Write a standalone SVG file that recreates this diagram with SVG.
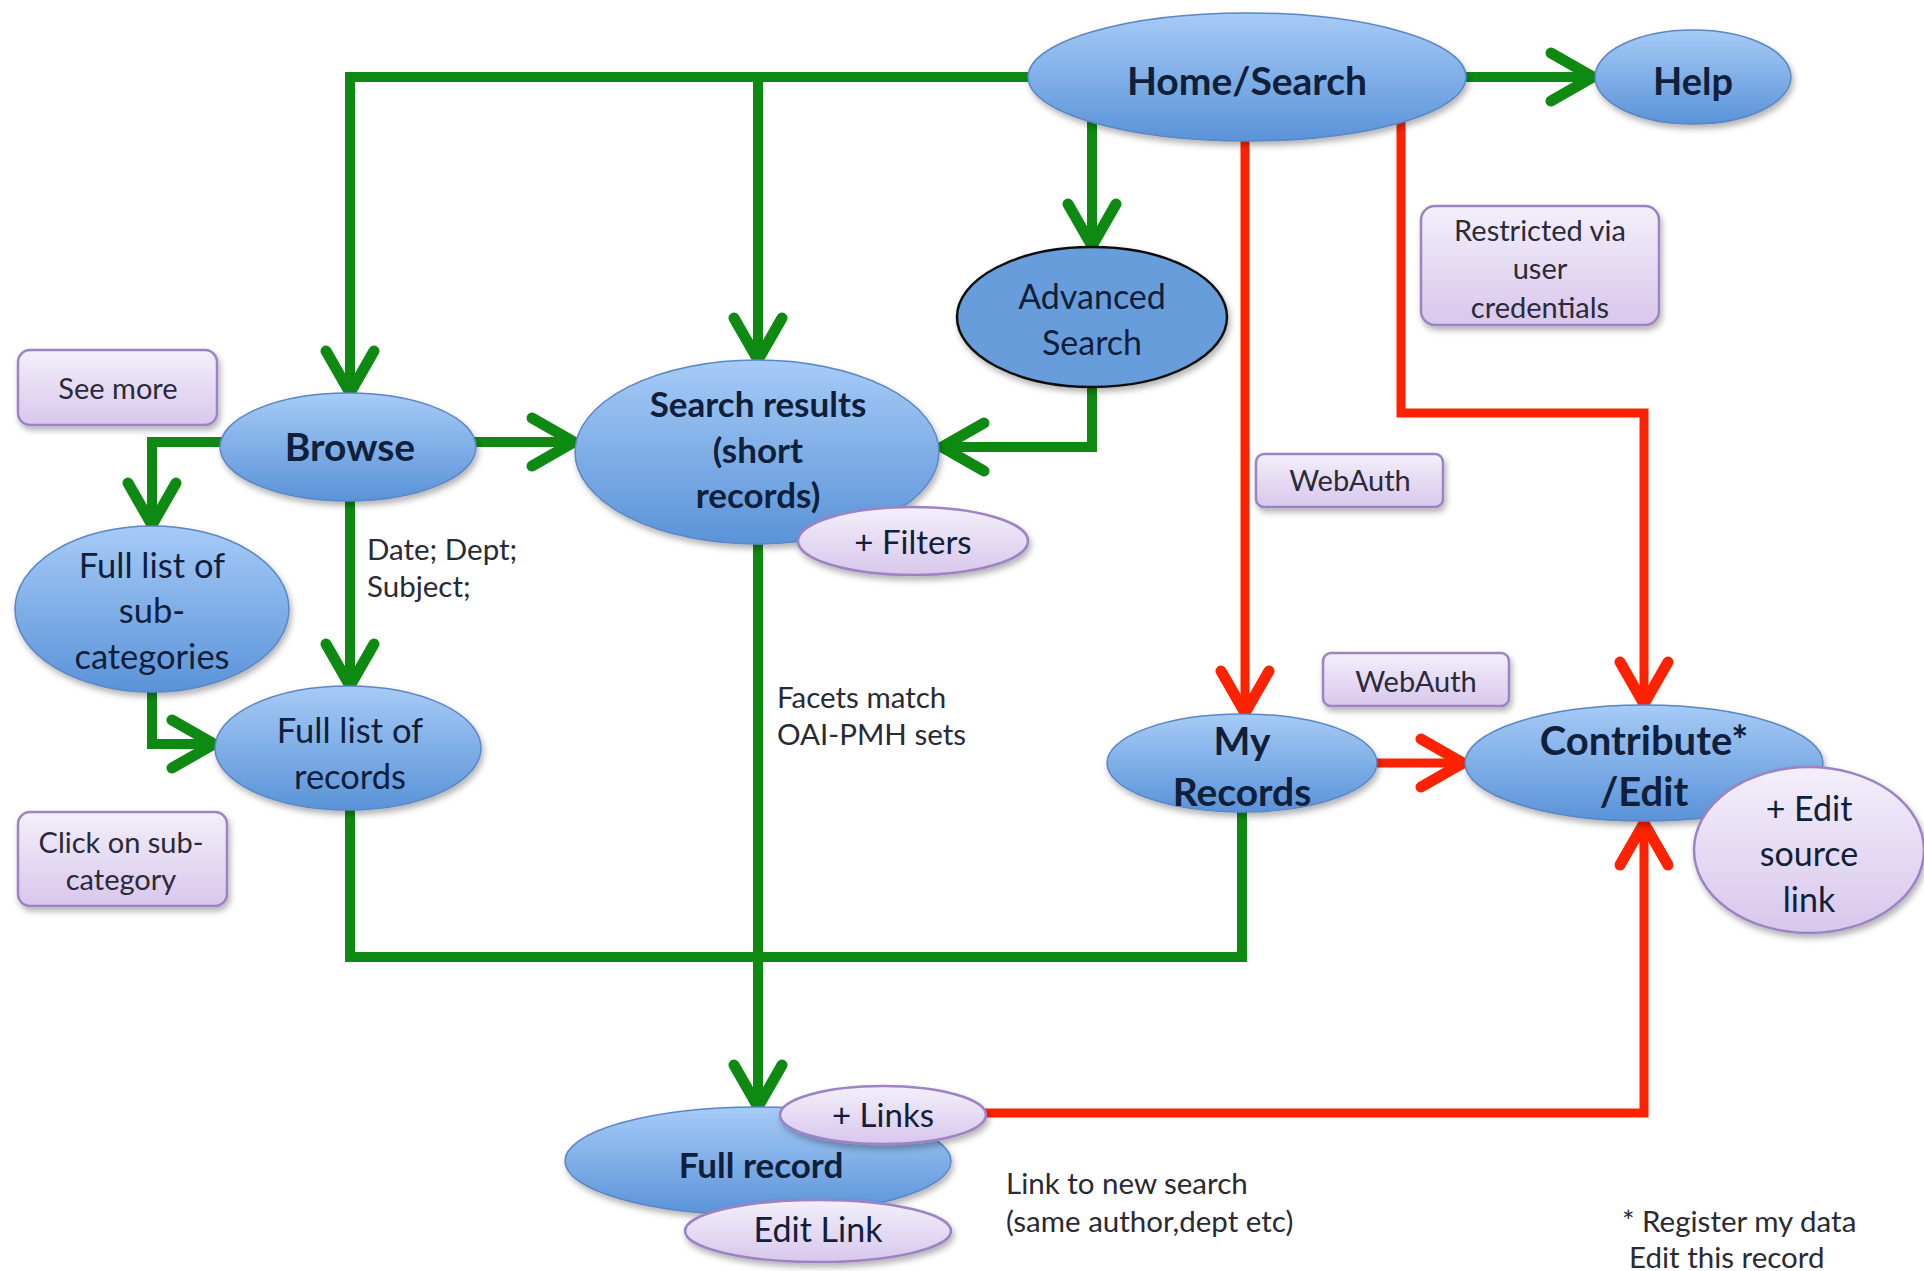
<svg xmlns="http://www.w3.org/2000/svg" width="1924" height="1271" viewBox="0 0 1924 1271">
<defs>
<linearGradient id="blue" x1="0" y1="0" x2="0" y2="1">
<stop offset="0" stop-color="#a6cbf7"/>
<stop offset="1" stop-color="#5a93d8"/>
</linearGradient>
<linearGradient id="lilac" x1="0" y1="0" x2="0" y2="1">
<stop offset="0" stop-color="#f3effa"/>
<stop offset="1" stop-color="#d8c7ec"/>
</linearGradient>
<filter id="sh" x="-20%" y="-20%" width="140%" height="150%">
<feDropShadow dx="2" dy="4" stdDeviation="3" flood-color="#000" flood-opacity="0.3"/>
</filter>
<marker id="ag" viewBox="-60 -35 70 70" refX="0" refY="0" markerWidth="70" markerHeight="70" markerUnits="userSpaceOnUse" orient="auto" overflow="visible">
<path d="M-42,-24 L0,0 L-42,24" fill="none" stroke="#0e8a12" stroke-width="11" stroke-linecap="round" stroke-linejoin="miter"/>
</marker>
<marker id="ar" viewBox="-60 -35 70 70" refX="0" refY="0" markerWidth="70" markerHeight="70" markerUnits="userSpaceOnUse" orient="auto" overflow="visible">
<path d="M-42,-24 L0,0 L-42,24" fill="none" stroke="#ff2200" stroke-width="11" stroke-linecap="round" stroke-linejoin="miter"/>
</marker>
<style>
.g{fill:none;stroke:#0e8a12;stroke-width:10;stroke-linejoin:miter}
.r{fill:none;stroke:#ff2200;stroke-width:9;stroke-linejoin:miter}
.node{fill:url(#blue);stroke:#5b86c4;stroke-width:1.5;filter:url(#sh)}
.note{fill:url(#lilac);stroke:#9d82c4;stroke-width:2.5;filter:url(#sh)}
.t{font-family:Lato,"Open Sans","Liberation Sans",sans-serif;fill:#10203a;text-anchor:middle}
.b{font-weight:bold}
.s{font-size:29px;fill:#2a2a38}
.n{font-family:Lato,"Open Sans","Liberation Sans",sans-serif;fill:#2a2a34;font-size:29.5px}
</style>
</defs>
<rect width="1924" height="1271" fill="#ffffff"/>

<g id="connectors">
<path class="g" d="M1247,77 H350 V393" marker-end="url(#ag)"/>
<path class="g" d="M758,77 V360" marker-end="url(#ag)"/>
<path class="g" d="M1092,100 V246" marker-end="url(#ag)"/>
<path class="g" d="M1300,77 H1593" marker-end="url(#ag)"/>
<path class="g" d="M1092,330 V447 H942" marker-end="url(#ag)"/>
<path class="g" d="M420,442 H574" marker-end="url(#ag)"/>
<path class="g" d="M260,442 H152 V525" marker-end="url(#ag)"/>
<path class="g" d="M350,447 V686" marker-end="url(#ag)"/>
<path class="g" d="M152,640 V744 H214" marker-end="url(#ag)"/>
<path class="g" d="M350,748 V957 H1242 V780"/>
<path class="g" d="M758,452 V1107" marker-end="url(#ag)"/>
<path class="r" d="M1245,100 V713" marker-end="url(#ar)"/>
<path class="r" d="M1401,100 V413 H1644 V704" marker-end="url(#ar)"/>
<path class="r" d="M1300,763 H1463" marker-end="url(#ar)"/>
<path class="r" d="M930,1113 H1644 V823" marker-end="url(#ar)"/>
</g>

<g id="home-search">
<ellipse class="node" cx="1247" cy="77" rx="219" ry="64"/>
<text class="t b" x="1247" y="95" font-size="39">Home/Search</text>
</g>
<g id="help">
<ellipse class="node" cx="1693" cy="77" rx="98" ry="47"/>
<text class="t b" x="1693" y="95" font-size="38">Help</text>
</g>
<g id="advanced-search">
<ellipse cx="1092" cy="317" rx="135" ry="70" fill="#679ddc" stroke="#111" stroke-width="2.5" filter="url(#sh)"/>
<text class="t" x="1092" y="309" font-size="34">Advanced</text>
<text class="t" x="1092" y="355" font-size="34">Search</text>
</g>
<g id="restricted">
<rect class="note" x="1421" y="206" width="238" height="119" rx="14"/>
<text class="t s" x="1540" y="241">Restricted via</text>
<text class="t s" x="1540" y="279">user</text>
<text class="t s" x="1540" y="318">credentials</text>
</g>
<g id="see-more">
<rect class="note" x="18" y="350" width="199" height="75" rx="12"/>
<text class="t s" x="118" y="399">See more</text>
</g>
<g id="browse">
<ellipse class="node" cx="348" cy="447" rx="128" ry="54"/>
<text class="t b" x="350" y="461" font-size="39">Browse</text>
</g>
<g id="search-results">
<ellipse class="node" cx="757" cy="452" rx="182" ry="92"/>
<text class="t b" x="758" y="417" font-size="35">Search results</text>
<text class="t b" x="758" y="463" font-size="35">(short</text>
<text class="t b" x="758" y="508" font-size="35">records)</text>
</g>
<g id="filters">
<ellipse class="note" cx="913" cy="541" rx="115" ry="34"/>
<text class="t" x="913" y="554" font-size="33">+ Filters</text>
</g>
<g id="webauth-1">
<rect class="note" x="1256" y="454" width="187" height="53" rx="8"/>
<text class="t s" x="1350" y="491">WebAuth</text>
</g>
<g id="sub-categories">
<ellipse class="node" cx="152" cy="609" rx="137" ry="83"/>
<text class="t" x="152" y="578" font-size="34.5">Full list of</text>
<text class="t" x="152" y="623" font-size="34.5">sub-</text>
<text class="t" x="152" y="669" font-size="34.5">categories</text>
</g>
<g id="date-label">
<text class="n" x="367" y="560">Date; Dept;</text>
<text class="n" x="367" y="597">Subject;</text>
</g>
<g id="full-list-records">
<ellipse class="node" cx="348" cy="748" rx="133" ry="62"/>
<text class="t" x="350" y="743" font-size="34.5">Full list of</text>
<text class="t" x="350" y="789" font-size="34.5">records</text>
</g>
<g id="click-subcategory">
<rect class="note" x="18" y="812" width="209" height="94" rx="12"/>
<text class="t s" x="121" y="853">Click on sub-</text>
<text class="t s" x="121" y="890">category</text>
</g>
<g id="facets-label">
<text class="n" x="777" y="708">Facets match</text>
<text class="n" x="777" y="745">OAI-PMH sets</text>
</g>
<g id="webauth-2">
<rect class="note" x="1323" y="653" width="186" height="53" rx="8"/>
<text class="t s" x="1416" y="692">WebAuth</text>
</g>
<g id="my-records">
<ellipse class="node" cx="1242" cy="763" rx="135" ry="49"/>
<text class="t b" x="1242" y="755" font-size="39">My</text>
<text class="t b" x="1242" y="806" font-size="39">Records</text>
</g>
<g id="contribute-edit">
<ellipse class="node" cx="1644" cy="763" rx="179" ry="58"/>
<text class="t b" x="1644" y="755" font-size="40">Contribute*</text>
<text class="t b" x="1644" y="806" font-size="40">/Edit</text>
</g>
<g id="edit-source-link">
<ellipse class="note" cx="1809" cy="850" rx="115" ry="83"/>
<text class="t" x="1809" y="821" font-size="34">+ Edit</text>
<text class="t" x="1809" y="866" font-size="34">source</text>
<text class="t" x="1809" y="912" font-size="34">link</text>
</g>
<g id="full-record">
<ellipse class="node" cx="758" cy="1161" rx="193" ry="54"/>
<text class="t b" x="761" y="1178" font-size="35">Full record</text>
</g>
<g id="links">
<ellipse class="note" cx="883" cy="1115" rx="103" ry="29"/>
<text class="t" x="883" y="1127" font-size="33">+ Links</text>
</g>
<g id="edit-link">
<ellipse class="note" cx="818" cy="1231" rx="133" ry="31"/>
<text class="t" x="818" y="1242" font-size="34">Edit Link</text>
</g>
<g id="new-search-label">
<text class="n" x="1006" y="1194">Link to new search</text>
<text class="n" x="1006" y="1232">(same author,dept etc)</text>
</g>
<g id="footnote">
<text class="n" x="1622" y="1232">* Register my data</text>
<text class="n" x="1629" y="1268">Edit this record</text>
</g>
</svg>
